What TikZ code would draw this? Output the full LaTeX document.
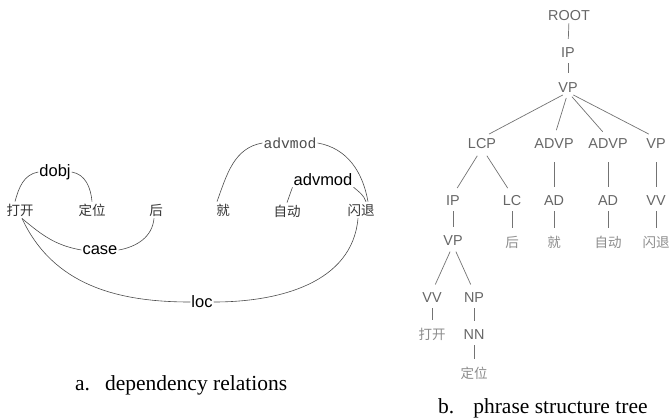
\documentclass[tikz,border=0pt]{standalone}
\usepackage{fontspec}
\setmainfont{Liberation Serif}
\setsansfont{Liberation Sans}
\setmonofont{Liberation Mono}
\newfontfamily\cjk{Noto Sans CJK SC}
\begin{document}
\begin{tikzpicture}[x=1pt,y=1pt,
  word/.style={font=\cjk\fontsize{13.5}{14}\selectfont, text=black!80, inner sep=2pt},
  rel/.style={font=\sffamily\fontsize{16.5}{18}\selectfont, text=black, inner sep=1pt},
  relmono/.style={font=\ttfamily\fontsize{14.7}{16}\selectfont, text=black!70, inner sep=1pt},
  arc/.style={draw=black!70, line width=0.6pt},
  cat/.style={font=\sffamily\fontsize{14.4}{16}\selectfont, text=black!60,
    text height=10pt, text depth=0pt, inner ysep=0pt, inner xsep=0pt},
  leaf/.style={font=\cjk\fontsize{13.5}{14}\selectfont, text=black!45, inner sep=0pt},
  branch/.style={draw=black!55, line width=0.7pt, shorten <=6pt, shorten >=8pt},
  caption/.style={font=\rmfamily\fontsize{21.5}{24}\selectfont, anchor=base west, inner sep=0pt}
]
\useasboundingbox (0,0) rectangle (669,-418);

% ---------- dependency relations ----------
\node[word] (w1) at (20,-210) {打开};
\node[word] (w2) at (92,-210) {定位};
\node[word] (w3) at (156,-210) {后};
\node[word] (w4) at (223,-210) {就};
\node[word] (w5) at (287,-211) {自动};
\node[word] (w6) at (361,-210) {闪退};

\node[rel] (dobj) at (55,-172) {dobj};
\node[rel] (case) at (100,-250) {case};
\node[rel] (loc) at (202,-302) {loc};
\node[relmono] (adv1) at (290,-143) {advmod};
\node[rel] (adv2) at (323,-180) {advmod};

\draw[arc] ([xshift=-5pt]w1.north) to[out=75,in=190] (dobj.west);
\draw[arc] (dobj.east) to[out=-10,in=95] (w2.north);
\draw[arc] ([xshift=2pt]w1.south) to[out=-40,in=170] (case.west);
\draw[arc] (case.east) to[out=10,in=-95] ([xshift=-2pt]w3.south);
\draw[arc] ([xshift=2pt]w1.south) to[out=-65,in=180] (loc.west);
\draw[arc] (loc.east) to[out=0,in=-95] ([xshift=-3pt]w6.south);
\draw[arc] ([xshift=-6pt]w4.north) to[out=70,in=190] (adv1.west);
\draw[arc] (adv1.east) to[out=-10,in=100] ([xshift=7pt]w6.north);
\draw[arc] (w5.north) -- (adv2.south west);
\draw[arc] (adv2.south east) to[out=-40,in=110] ([xshift=5pt]w6.north);

\node[caption] (capa) at (75,-390) {a.\hspace{15pt}dependency relations};

% ---------- phrase structure tree ----------
\node[cat] (root) at (569,-15) {ROOT};
\node[cat] (ip0) at (568,-52) {IP};
\node[cat] (vp0) at (568,-87) {VP};
\node[cat] (lcp) at (482,-143) {LCP};
\node[cat] (advp1) at (554,-143) {ADVP};
\node[cat] (advp2) at (608,-143) {ADVP};
\node[cat] (vp1) at (656,-143) {VP};
\node[cat] (ip1) at (453,-200) {IP};
\node[cat] (lc) at (512,-200) {LC};
\node[cat] (ad1) at (554,-200) {AD};
\node[cat] (ad2) at (608,-200) {AD};
\node[cat] (vv1) at (656,-200) {VV};
\node[cat] (vp2) at (453,-240) {VP};
\node[leaf] (hou) at (512,-242) {后};
\node[leaf] (jiu) at (554,-242) {就};
\node[leaf] (zd) at (608,-242) {自动};
\node[leaf] (sht) at (656,-242) {闪退};
\node[cat] (vv2) at (432,-297) {VV};
\node[cat] (np) at (474,-297) {NP};
\node[leaf] (dk) at (432,-334) {打开};
\node[cat] (nn) at (474,-334) {NN};
\node[leaf] (dw) at (474,-373) {定位};

\draw[branch, shorten <=3pt] (root.south) -- (ip0.north);
\draw[branch, shorten >=9pt] (ip0.south) -- (vp0.north);
\foreach \c in {lcp,advp1,advp2,vp1}
  \draw[branch] (vp0.south) -- (\c.north);
\draw[branch, shorten <=9pt] (lcp.south) -- (ip1.north);
\draw[branch, shorten <=9pt] (lcp.south) -- (lc.north);
\draw[branch, shorten <=14pt] (advp1.south) -- (ad1.north);
\draw[branch, shorten <=14pt] (advp2.south) -- (ad2.north);
\draw[branch, shorten <=14pt] (vp1.south) -- (vv1.north);
\draw[branch] (ip1.south) -- (vp2.north);
\draw[branch] (lc.south) -- (hou.north);
\draw[branch] (ad1.south) -- (jiu.north);
\draw[branch] (ad2.south) -- (zd.north);
\draw[branch] (vv1.south) -- (sht.north);
\draw[branch, shorten <=7pt] (vp2.south) -- (vv2.north);
\draw[branch, shorten <=7pt] (vp2.south) -- (np.north);
\draw[branch] (vv2.south) -- (dk.north);
\draw[branch] (np.south) -- (nn.north);
\draw[branch] (nn.south) -- (dw.north);

\node[caption] (capb) at (438,-413) {b.\hspace{19pt}phrase structure tree};
\end{tikzpicture}
\end{document}
